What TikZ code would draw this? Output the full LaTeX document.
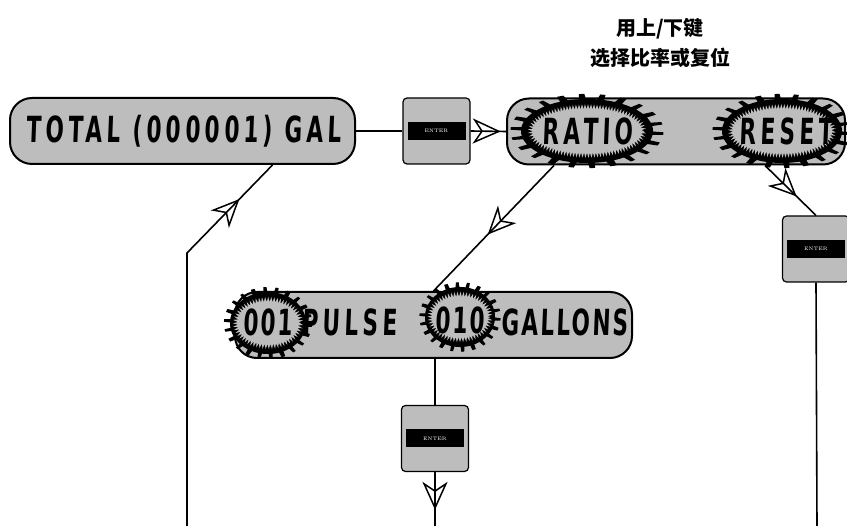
\documentclass[tikz,border=0pt]{standalone}
\usepackage{fontspec}
\usetikzlibrary{arrows.meta,decorations.markings,decorations.pathmorphing}
\newfontfamily\cjk{Noto Sans CJK SC}
\newfontfamily\lcdfont{DejaVu Sans}[FakeSlant=0.04,FakeStretch=0.6,LetterSpace=12]

\definecolor{lcdgray}{gray}{0.74}

\newcommand{\lcdgear}[4]{%
    \fill[black] plot[domain=0:360,samples=361,variable=\t]
        ({#1+#3*(1+0.16*(sin(22*\t)>0.5))*cos(\t)},{#2+#4*(1+0.16*(sin(22*\t)>0.5))*sin(\t)}) -- cycle;
    \fill[lcdgray, decorate, decoration={zigzag,segment length=3pt,amplitude=2.5pt}]
        (#1,#2) ellipse [x radius={0.86*#3pt}, y radius={0.76*#4pt}];
}

\tikzset{
    display/.style={draw=black, line width=2pt, fill=lcdgray, rounded corners=22pt, minimum height=66pt, inner sep=0pt},
    enterkey/.style={draw=black, line width=1.2pt, fill=lcdgray, rounded corners=4pt, minimum width=67pt, minimum height=66pt},
    enterbar/.style={fill=black, text=white, font=\fontsize{5}{5}\selectfont, minimum width=58pt, minimum height=18pt, inner sep=0pt},
    lcd/.style={font=\lcdfont\bfseries\fontsize{36}{36}\selectfont, inner sep=0pt},
    wire/.style={line width=1.6pt},
    midarrow/.style={postaction={decorate}, decoration={markings, mark=at position #1 with {\arrow[line width=1.5pt]{Stealth[open, length=20pt, width=18pt, inset=6pt, scale=1.4]}}}}
}

\begin{document}
\begin{tikzpicture}[x=1pt, y=-1pt]
    \clip (0,0) rectangle (847,526);

    \node[align=center, font=\cjk\bfseries\fontsize{20}{30}\selectfont] (hint) at (660,43) {用上/下键\\选择比率或复位};

    \node[display, minimum width=345pt] (total) at (182.5,131) {};
    \node[display, minimum width=338pt] (ratio) at (676,131.5) {};
    \node[display, minimum width=397pt] (pulse) at (433.5,325) {};

    \lcdgear{587}{131}{66}{32}
    \lcdgear{782}{131}{60}{32}
    \lcdgear{268}{323}{38}{31}
    \lcdgear{460}{317}{35}{30}

    \node[lcd] (totaltxt) at (184,131) {TOTAL (000001) GAL};
    \node[lcd] (ratiotxt) at (588,131) {RATIO};
    \node[lcd] (resettxt) at (786,131) {RESET};
    \node[lcd, font=\lcdfont\bfseries\fontsize{36}{36}\selectfont\addfontfeature{LetterSpace=6}] (onetxt) at (268,322) {001};
    \node[lcd] (pulsetxt) at (350,322) {PULSE};
    \node[lcd, font=\lcdfont\bfseries\fontsize{36}{36}\selectfont\addfontfeature{LetterSpace=6}] (tentxt) at (460,320) {010};
    \node[lcd, font=\lcdfont\bfseries\fontsize{36}{36}\selectfont\addfontfeature{LetterSpace=6}] (galtxt) at (565,322) {GALLONS};

    \node[enterkey] (enterA) at (436.5,131) {};
    \node[enterbar] (barA) at (enterA) {ENTER};
    \node[enterkey] (enterB) at (435,438.5) {};
    \node[enterbar] (barB) at (enterB) {ENTER};
    \node[enterkey] (enterC) at (816,249) {};
    \node[enterbar] (barC) at (enterC) {ENTER};

    \coordinate (exitB) at (435,526);
    \coordinate (exitC) at (817,526);
    \coordinate (loopin) at (187,526);
    \coordinate (bend) at (187,253);

    \draw[wire] (total.east) -- (enterA.west);
    \draw[wire, midarrow=0.85] (enterA.east) -- (ratio.west);
    \draw[wire, midarrow=0.55] ([xshift=-122pt]ratio.south) -- (pulse.north);
    \draw[wire, midarrow=0.62] ([xshift=89pt]ratio.south) -- (enterC.north);
    \draw[wire] (enterB.north |- pulse.south) -- (enterB.north);
    \draw[wire, midarrow=0.7] (enterB.south) -- (exitB);
    \draw[wire] (enterC.south) -- (exitC);
    \draw[wire, midarrow=0.88] (loopin) -- (bend) -- ([xshift=90pt]total.south);
\end{tikzpicture}
\end{document}
